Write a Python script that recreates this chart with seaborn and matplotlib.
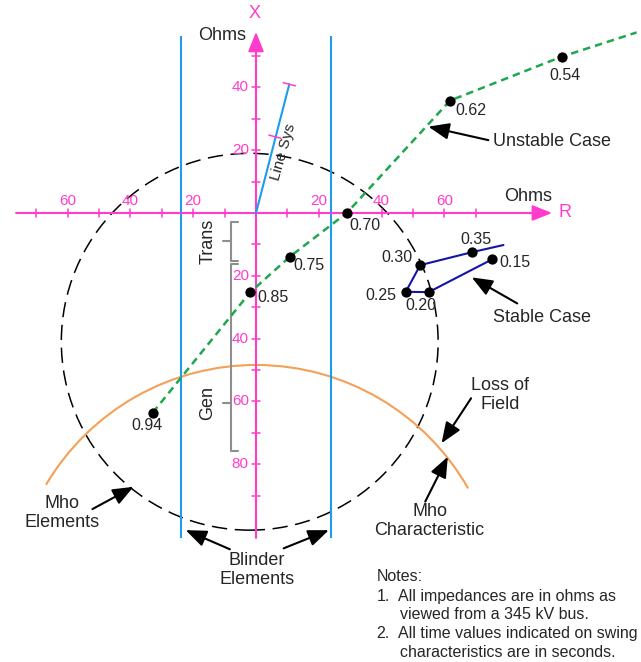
"""
Power swing on the R-X plane: mho elements, blinders, loss of field, swing loci
"""

import matplotlib
matplotlib.use('Agg')
import numpy as np
import pandas as pd
import matplotlib.pyplot as plt
from matplotlib.patches import Circle, Arc
import seaborn as sns

# ---- data (ohms) ----
unstable_t = ['0.94', '0.85', '0.75', '0.70', '0.62', '0.54']
unstable_r = [-32.9, -1.9, 10.8, 28.9, 61.8, 97.4]
unstable_x = [-63.6, -25.3, -13.9, 0.0, 35.8, 49.8]
unstable_tail = [121.2, 57.5]      # swing runs on past the last point

stable_t = ['0.15', '0.20', '0.25', '0.30', '0.35']
stable_r = [75.3, 55.0, 47.7, 52.3, 68.7]
stable_x = [-14.7, -25.2, -25.1, -16.6, -12.5]
stable_tail = [78.8, -10.2]

mho_center = [-2.0, -41.0]
mho_radius = 60.0
lof_center = [0.0, -126.1]
lof_radius = 77.7
lof_theta = [29.6, 149.4]

blinder_r = [-23.8, 23.9]
blinder_span = [-103.5, 56.4]
line_sys_end = [10.6, 41.0]
line_sys_mark = [6.05, 24.3]

r_ticks = [-70, -60, -50, -40, -30, -20, -10, 10, 20, 30, 40, 50, 60, 70]
r_labels = [-60, -40, -20, 20, 40, 60]
x_ticks = [50, 40, 30, 20, 10, -10, -20, -30, -40, -50, -60, -70, -80, -90]
x_labels = [40, 20, -20, -40, -60, -80]

# ---- style ----
sns.set_theme(style='white')
plt.rcParams['font.family'] = ['Liberation Sans', 'DejaVu Sans']

MAG = '#FF3CCB'
BLUE = '#1C9CEE'
GREEN = '#1FA74E'
NAVY = '#1414A6'
ORANGE = '#F5A056'
GRAY = '#8E8E8E'

PX = 3.14           # pixels per ohm
OX, OY = 256, 213   # origin in pixels

fig = plt.figure(figsize=(6.41, 6.62), dpi=100)
ax = fig.add_axes([0, 0, 1, 1])
ax.set_xlim(-OX / PX, (641 - OX) / PX)
ax.set_ylim(-(662 - OY) / PX, OY / PX)
ax.set_aspect('equal')
ax.axis('off')

# ---- R-X axes ----
arrow_kw = dict(arrowstyle='-|>,head_length=0.6,head_width=0.24', color=MAG,
                lw=1.5, mutation_scale=20, shrinkA=0, shrinkB=0)
ax.annotate('', xy=(94.3, 0), xytext=(-76.4, 0), arrowprops=arrow_kw, zorder=2)
ax.annotate('', xy=(0, 57.7), xytext=(0, -103.5), arrowprops=arrow_kw, zorder=2)
for t in r_ticks:
    ax.plot([t, t], [-1.15, 1.15], color=MAG, lw=1.1, zorder=2)
for t in x_ticks:
    ax.plot([-1.15, 1.15], [t, t], color=MAG, lw=1.1, zorder=2)
for t in r_labels:
    ax.text(t, 3.8, str(abs(t)), color=MAG, fontsize=11, ha='center', va='center')
for t in x_labels:
    ax.text(-2.3, t, str(abs(t)), color=MAG, fontsize=11, ha='right', va='center')
ax.text(-0.4, 63.6, 'X', color=MAG, fontsize=13, ha='center', va='center')
ax.text(98.4, 0.1, 'R', color=MAG, fontsize=13, ha='center', va='center')
ax.text(-10.8, 56.6, 'Ohms', fontsize=13, ha='center', va='center')
ax.text(86.7, 5.1, 'Ohms', fontsize=13, ha='center', va='center')

# ---- mho element circle and loss-of-field characteristic ----
ax.add_patch(Circle(mho_center, mho_radius, fill=False, color='black', lw=1.1,
                    linestyle=(0, (10, 5)), zorder=1))
ax.add_patch(Arc(lof_center, 2 * lof_radius, 2 * lof_radius, theta1=lof_theta[0],
                 theta2=lof_theta[1], color=ORANGE, lw=1.5, zorder=1))

# ---- blinders and line ----
ax.vlines(blinder_r, blinder_span[0], blinder_span[1], color=BLUE, lw=1.5, zorder=1)
ax.plot([0, line_sys_end[0]], [0, line_sys_end[1]], color=BLUE, lw=1.5, zorder=2)
ux, uy = line_sys_end[0], line_sys_end[1]
n = np.hypot(ux, uy)
px, py = uy / n * 2.0, -ux / n * 2.0
for cx, cy in [line_sys_end, line_sys_mark]:
    ax.plot([cx - px, cx + px], [cy - py, cy + py], color=MAG, lw=1.1, zorder=2)
ax.text(8.8, 19.5, 'Line Sys', fontsize=11, rotation=74, ha='center', va='center',
        rotation_mode='anchor')

# ---- Trans / Gen brackets ----
br = -8.06
ax.plot([-5.6, br, br, -5.6], [-2.8, -2.8, -15.3, -15.3], color=GRAY, lw=1.5)
ax.plot([br, -10.4], [-8.8, -8.8], color=GRAY, lw=1.5)
ax.plot([-5.6, br, br, -5.6], [-16.3, -16.3, -75.8, -75.8], color=GRAY, lw=1.5)
ax.plot([br, -10.4], [-60.6, -60.6], color=GRAY, lw=1.5)
ax.text(-15.2, -9.1, 'Trans', fontsize=13, rotation=90, ha='center', va='center')
ax.text(-15.3, -60.6, 'Gen', fontsize=13, rotation=90, ha='center', va='center')

# ---- swing loci ----
unstable = pd.DataFrame({'R': unstable_r + [unstable_tail[0]],
                         'X': unstable_x + [unstable_tail[1]]})
stable = pd.DataFrame({'R': stable_r + [stable_tail[0]],
                       'X': stable_x + [stable_tail[1]]})
sns.lineplot(data=unstable, x='R', y='X', sort=False, estimator=None, color=GREEN,
             lw=1.8, linestyle=(0, (3, 2)), ax=ax, zorder=3)
sns.lineplot(data=stable, x='R', y='X', sort=False, estimator=None, color=NAVY,
             lw=1.5, ax=ax, zorder=3)
sns.scatterplot(x=unstable_r, y=unstable_x, color='black', s=55, linewidth=0, ax=ax, zorder=5)
sns.scatterplot(x=stable_r, y=stable_x, color='black', s=55, linewidth=0, ax=ax, zorder=5)
ax.set_xlabel('')
ax.set_ylabel('')

# time labels
lab = dict(fontsize=11.5, va='center')
ax.text(-34.7, -67.7, unstable_t[0], ha='center', **lab)
ax.text(0.4, -27.0, unstable_t[1], ha='left', **lab)
ax.text(11.9, -16.6, unstable_t[2], ha='left', **lab)
ax.text(29.6, -4.1, unstable_t[3], ha='left', **lab)
ax.text(63.4, 32.6, unstable_t[4], ha='left', **lab)
ax.text(98.3, 43.9, unstable_t[5], ha='center', **lab)
ax.text(77.5, -15.8, stable_t[0], ha='left', **lab)
ax.text(52.5, -29.3, stable_t[1], ha='center', **lab)
ax.text(44.8, -26.4, stable_t[2], ha='right', **lab)
ax.text(49.7, -14.1, stable_t[3], ha='right', **lab)
ax.text(70.0, -8.3, stable_t[4], ha='center', **lab)

# ---- callouts ----
call = dict(arrowstyle='-|>,head_length=0.7,head_width=0.28', color='black', lw=1.5,
            mutation_scale=18, shrinkA=0, shrinkB=0)
ax.annotate('', xy=(54.9, 27.5), xytext=(74.0, 23.2), arrowprops=call)
ax.text(75.4, 22.7, 'Unstable Case', fontsize=13, ha='left', va='center')
ax.annotate('', xy=(68.7, -20.5), xytext=(83.2, -28.8), arrowprops=call)
ax.text(91.1, -33.2, 'Stable Case', fontsize=13, ha='center', va='center')
ax.annotate('', xy=(-39.0, -87.2), xytext=(-52.1, -94.3), arrowprops=call)
ax.text(-61.9, -95.5, 'Mho\nElements', fontsize=13, ha='center', va='center')
ax.annotate('', xy=(-22.4, -101.0), xytext=(-8.3, -107.1), arrowprops=call)
ax.annotate('', xy=(23.2, -101.0), xytext=(8.8, -106.8), arrowprops=call)
ax.text(0.3, -113.7, 'Blinder\nElements', fontsize=13, ha='center', va='center')
ax.annotate('', xy=(61.1, -77.6), xytext=(53.9, -91.9), arrowprops=call)
ax.text(55.3, -98.1, 'Mho\nCharacteristic', fontsize=13, ha='center', va='center')
ax.annotate('', xy=(59.1, -73.3), xytext=(68.5, -59.0), arrowprops=call)
ax.text(77.8, -58.0, 'Loss of\nField', fontsize=13, ha='center', va='center')

# ---- notes ----
nt = dict(fontsize=11.5, va='center', ha='left')
ax.text(38.4, -115.9, 'Notes:', **nt)
ax.text(38.4, -122.0, '1.', **nt)
ax.text(45.1, -122.0, 'All impedances are in ohms as', **nt)
ax.text(46.0, -128.0, 'viewed from a 345 kV bus.', **nt)
ax.text(38.4, -134.0, '2.', **nt)
ax.text(45.1, -134.0, 'All time values indicated on swing', **nt)
ax.text(46.0, -140.0, 'characteristics are in seconds.', **nt)

plt.savefig('out.png', dpi=100)
